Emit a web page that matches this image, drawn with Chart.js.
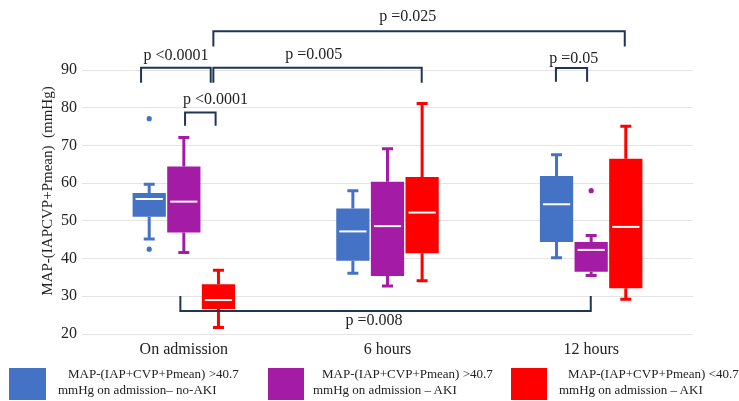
<!DOCTYPE html>
<html><head><meta charset="utf-8">
<script src="https://cdn.jsdelivr.net/npm/chart.js@4/dist/chart.umd.min.js"></script>
<style>
html,body{margin:0;padding:0;background:#fff;}
#wrap{position:relative;width:739px;height:401px;overflow:hidden;}
#c{position:absolute;left:0;top:0;}
.lg{position:absolute;font-family:'Liberation Serif','Times New Roman',serif;font-size:13px;color:#222;line-height:16px;white-space:nowrap;}
.sw{position:absolute;}
</style></head><body>
<div id="wrap">
<canvas id="c" width="739" height="401"></canvas>
<div class="sw" style="left:9px;top:368px;width:37px;height:32px;background:#4472C4"></div>
<div class="lg" style="left:68px;top:366px">MAP-(IAP+CVP+Pmean) &gt;40.7</div>
<div class="lg" style="left:58px;top:382px">mmHg on admission– no-AKI</div>
<div class="sw" style="left:268px;top:368px;width:36px;height:32px;background:#A41BA6"></div>
<div class="lg" style="left:322px;top:366px">MAP-(IAP+CVP+Pmean) &gt;40.7</div>
<div class="lg" style="left:313px;top:382px">mmHg on admission – AKI</div>
<div class="sw" style="left:511px;top:368px;width:36px;height:32px;background:#FF0000"></div>
<div class="lg" style="left:568px;top:366px">MAP-(IAP+CVP+Pmean) &lt;40.7</div>
<div class="lg" style="left:559px;top:382px">mmHg on admission – AKI</div>
</div>
<script>
// ---- data ----
const categories = ['On admission', '6 hours', '12 hours'];
const seriesNames = [
  'MAP-(IAP+CVP+Pmean) >40.7 mmHg on admission– no-AKI',
  'MAP-(IAP+CVP+Pmean) >40.7 mmHg on admission – AKI',
  'MAP-(IAP+CVP+Pmean) <40.7 mmHg on admission – AKI'
];
const yTicks = [20, 30, 40, 50, 60, 70, 80, 90];

const blueMin = [45.2, 36.1, 40.2];
const blueQ1  = [51.1, 39.4, 44.4];
const blueMed = [55.8, 47.2, 54.4];
const blueQ3  = [57.4, 53.3, 61.9];
const blueMax = [59.7, 58.0, 67.5];
const blueOut = [[77.1, 42.5], [], []];

const purpleMin = [41.6, 32.7, 35.5];
const purpleQ1  = [46.9, 35.4, 36.5];
const purpleMed = [55.1, 48.6, 42.3];
const purpleQ3  = [64.4, 60.4, 44.4];
const purpleMax = [72.1, 69.1, 46.1];
const purpleOut = [[], [], [58.0]];

const redMin = [21.7, 34.1, 29.2];
const redQ1  = [26.6, 41.4, 32.1];
const redMed = [29.0, 52.2, 48.4];
const redQ3  = [33.2, 61.6, 66.5];
const redMax = [36.9, 81.1, 75.1];
const redOut = [[], [], []];

// significance annotations
const pLabels = ['p <0.0001', 'p <0.0001', 'p =0.005', 'p =0.025', 'p =0.05', 'p =0.008'];
const pFromCat = [-0.21, 0.006, 0.145, 0.145, 1.827, -0.017];
const pToCat   = [0.132, 0.156, 1.168, 2.165, 1.98, 1.998];
const pBarVal  = [90.6, 78.7, 90.6, 100.3, 90.5, 26.1];
const pTipVal  = [86.6, 75.2, 86.6, 96.2, 86.9, 30.1];
const pTextCat = [-0.038, 0.156, 0.638, 1.099, 1.915, 0.934];
const pTextVal = [93.7, 82.1, 94.0, 104.1, 93.1, 23.5];

// ---- build ----
const colors = ['#4472C4', '#A41BA6', '#FF0000'];
const stats = [
  {min: blueMin, q1: blueQ1, med: blueMed, q3: blueQ3, max: blueMax, out: blueOut},
  {min: purpleMin, q1: purpleQ1, med: purpleMed, q3: purpleQ3, max: purpleMax, out: purpleOut},
  {min: redMin, q1: redQ1, med: redMed, q3: redQ3, max: redMax, out: redOut}
];
const SERIF = "'Liberation Serif', 'Times New Roman', serif";

const datasets = stats.map((s, k) => ({
  label: seriesNames[k],
  data: s.q1.map((v, i) => [v, s.q3[i]]),
  backgroundColor: colors[k],
  borderWidth: 0,
  categoryPercentage: 0.51,
  barPercentage: 0.96
}));

const boxPlugin = {
  id: 'boxExtras',
  beforeDatasetsDraw(chart) {
    const ctx = chart.ctx, y = chart.scales.y;
    ctx.save();
    stats.forEach((s, k) => {
      const meta = chart.getDatasetMeta(k);
      meta.data.forEach((bar, i) => {
        const x = bar.x;
        ctx.strokeStyle = colors[k];
        ctx.lineWidth = 3;
        ctx.beginPath();
        ctx.moveTo(x, y.getPixelForValue(s.max[i]));
        ctx.lineTo(x, y.getPixelForValue(s.q3[i]));
        ctx.moveTo(x, y.getPixelForValue(s.q1[i]));
        ctx.lineTo(x, y.getPixelForValue(s.min[i]));
        ctx.moveTo(x - 5.5, y.getPixelForValue(s.max[i]));
        ctx.lineTo(x + 5.5, y.getPixelForValue(s.max[i]));
        ctx.moveTo(x - 5.5, y.getPixelForValue(s.min[i]));
        ctx.lineTo(x + 5.5, y.getPixelForValue(s.min[i]));
        ctx.stroke();
      });
    });
    ctx.restore();
  },
  afterDatasetsDraw(chart) {
    const ctx = chart.ctx, y = chart.scales.y;
    ctx.save();
    stats.forEach((s, k) => {
      const meta = chart.getDatasetMeta(k);
      meta.data.forEach((bar, i) => {
        const x = bar.x, w = bar.width;
        ctx.strokeStyle = '#ffffff';
        ctx.lineWidth = 2;
        ctx.beginPath();
        const my = y.getPixelForValue(s.med[i]);
        ctx.moveTo(x - w / 2 + 3, my);
        ctx.lineTo(x + w / 2 - 3, my);
        ctx.stroke();
        ctx.fillStyle = colors[k];
        s.out[i].forEach(v => {
          ctx.beginPath();
          ctx.arc(x, y.getPixelForValue(v), 2.6, 0, Math.PI * 2);
          ctx.fill();
        });
      });
    });
    ctx.restore();
  },
  afterDraw(chart) {
    const ctx = chart.ctx, xs = chart.scales.x, ys = chart.scales.y;
    ctx.save();
    ctx.strokeStyle = '#1F3554';
    ctx.lineWidth = 2;
    ctx.lineJoin = 'miter';
    pLabels.forEach((lab, j) => {
      const x1 = xs.getPixelForValue(pFromCat[j]);
      const x2 = xs.getPixelForValue(pToCat[j]);
      const yb = ys.getPixelForValue(pBarVal[j]);
      const yt = ys.getPixelForValue(pTipVal[j]);
      ctx.beginPath();
      ctx.moveTo(x1, yt);
      ctx.lineTo(x1, yb);
      ctx.lineTo(x2, yb);
      ctx.lineTo(x2, yt);
      ctx.stroke();
      ctx.fillStyle = '#222';
      ctx.font = '16px ' + SERIF;
      ctx.textAlign = 'center';
      ctx.textBaseline = 'middle';
      ctx.fillText(lab, xs.getPixelForValue(pTextCat[j]), ys.getPixelForValue(pTextVal[j]));
    });
    // y axis title
    ctx.translate(48, 191);
    ctx.rotate(-Math.PI / 2);
    ctx.font = '15px ' + SERIF;
    ctx.fillStyle = '#222';
    ctx.textAlign = 'center';
    ctx.textBaseline = 'middle';
    ctx.fillText('MAP-(IAPCVP+Pmean)  (mmHg)', 0, 0);
    ctx.restore();
  }
};

new Chart(document.getElementById('c'), {
  type: 'bar',
  data: { labels: categories, datasets: datasets },
  options: {
    responsive: false,
    devicePixelRatio: 1,
    animation: false,
    layout: { padding: { left: 0, right: 46, top: 70, bottom: 37 } },
    plugins: { legend: { display: false }, tooltip: { enabled: false } },
    scales: {
      x: {
        type: 'category',
        offset: true,
        grid: { display: false, drawTicks: false },
        border: { display: false },
        ticks: { font: { family: SERIF, size: 16 }, color: '#222', padding: 6 },
        afterFit(scale) { scale.height = 30; }
      },
      y: {
        min: 20, max: 90,
        afterBuildTicks(scale) { scale.ticks = yTicks.map(v => ({ value: v })); },
        grid: { color: '#e4e4e4', drawTicks: false, lineWidth: 1 },
        border: { display: false },
        ticks: { font: { family: SERIF, size: 16 }, color: '#222', padding: 5 },
        afterFit(scale) { scale.width = 82; }
      }
    }
  },
  plugins: [boxPlugin]
});
</script>
</body></html>
